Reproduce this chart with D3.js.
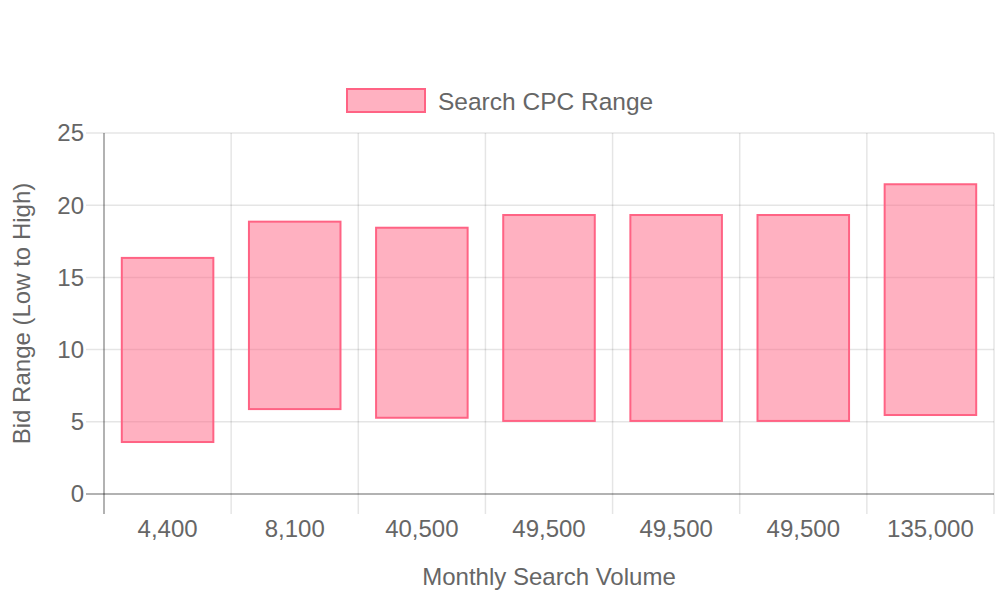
<!DOCTYPE html>
<html><head><meta charset="utf-8">
<script src="https://cdn.jsdelivr.net/npm/d3@7"></script>
<style>body{margin:0;background:#fff}svg{display:block;font-family:"Liberation Sans",Arial,sans-serif}</style>
</head><body><svg id="c" width="1000" height="600"></svg>
<script>
const categories = ["4,400","8,100","40,500","49,500","49,500","49,500","135,000"];
const lowValues  = [3.6, 5.88, 5.28, 5.06, 5.06, 5.06, 5.47];
const highValues = [16.35, 18.86, 18.44, 19.32, 19.32, 19.32, 21.45];
const yTicks = [0,5,10,15,20,25];
const seriesName = "Search CPC Range";

const svg = d3.select("#c");
const L=104, R=994, T=133, B=494;
const x = d3.scaleBand().domain(d3.range(categories.length)).range([L,R]).paddingInner(0).paddingOuter(0);
const y = d3.scaleLinear().domain([0,25]).range([B,T]);
const grid="rgba(0,0,0,0.1)", axisC="rgba(0,0,0,0.3)", txt="#666";

// horizontal grid
const yg = svg.append("g");
yTicks.forEach(t=>{
  yg.append("line").attr("x1",86).attr("x2",R).attr("y1",y(t)).attr("y2",y(t))
    .attr("stroke", t===0?axisC:grid).attr("stroke-width", t===0?2:1.5);
  yg.append("text").attr("x",84).attr("y",y(t)).attr("dy","0.35em").attr("text-anchor","end")
    .attr("fill",txt).attr("font-size",24).text(t);
});
// vertical grid
const bounds = d3.range(categories.length+1).map(i=> i<categories.length? x(i): R);
bounds.forEach((b,i)=>{
  svg.append("line").attr("x1",b).attr("x2",b).attr("y1",T).attr("y2",514)
    .attr("stroke", i===0?axisC:grid).attr("stroke-width", i===0?2:1.5);
});
// x labels
categories.forEach((c,i)=>{
  svg.append("text").attr("x",x(i)+x.bandwidth()/2).attr("y",529).attr("dy","0.35em")
    .attr("text-anchor","middle").attr("fill",txt).attr("font-size",24).text(c);
});
// bars
const bw = x.bandwidth()*0.72;
svg.append("g").selectAll("rect").data(categories).join("rect")
  .attr("x",(d,i)=>x(i)+(x.bandwidth()-bw)/2)
  .attr("y",(d,i)=>y(highValues[i]))
  .attr("width",bw)
  .attr("height",(d,i)=>y(lowValues[i])-y(highValues[i]))
  .attr("fill","rgba(255,99,132,0.5)").attr("stroke","rgb(255,99,132)").attr("stroke-width",2);

// legend
svg.append("rect").attr("x",347).attr("y",89).attr("width",78).attr("height",23)
  .attr("fill","rgba(255,99,132,0.5)").attr("stroke","rgb(255,99,132)").attr("stroke-width",2);
svg.append("text").attr("x",438).attr("y",101).attr("dy","0.35em").attr("fill",txt).attr("font-size",24.5).text(seriesName);

// axis titles
svg.append("text").attr("transform",`translate(22,${(T+B)/2}) rotate(-90)`).attr("text-anchor","middle")
  .attr("dy","0.35em").attr("fill",txt).attr("font-size",24).text("Bid Range (Low to High)");
svg.append("text").attr("x",(L+R)/2).attr("y",577).attr("dy","0.35em").attr("text-anchor","middle")
  .attr("fill",txt).attr("font-size",24).text("Monthly Search Volume");
</script></body></html>
